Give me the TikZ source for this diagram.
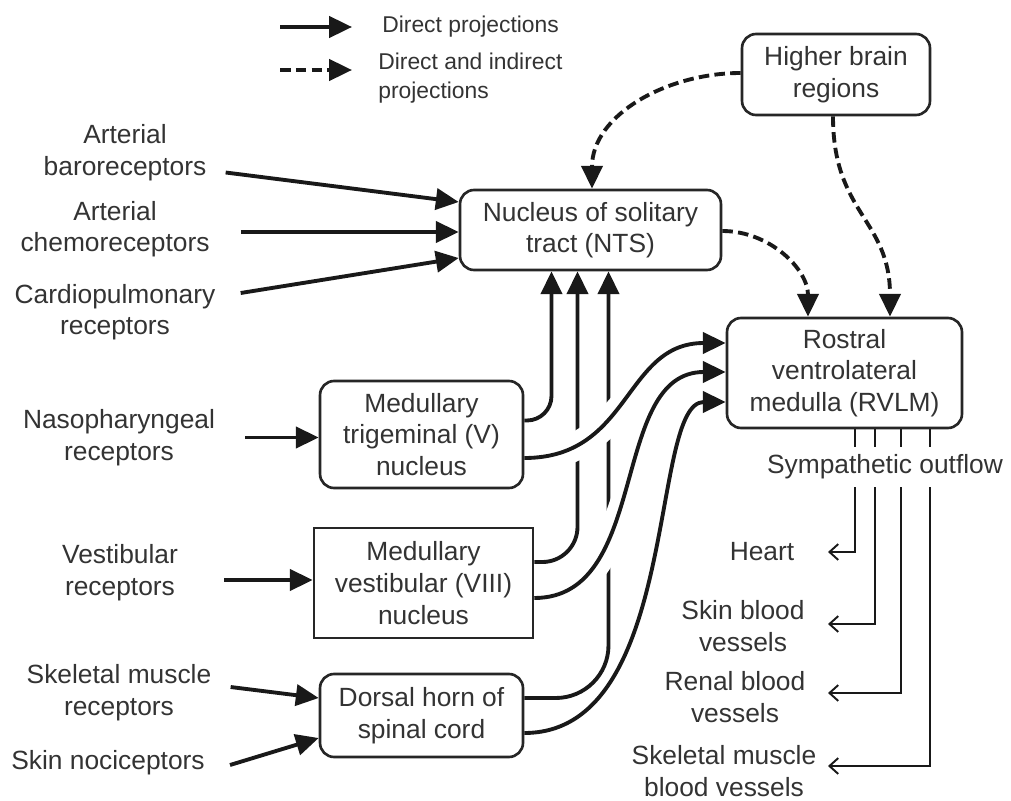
\documentclass[tikz,border=0pt]{standalone}
\usepackage{fontspec}
\setmainfont{Liberation Sans}
\usetikzlibrary{positioning,arrows.meta,calc}

\tikzset{
    box/.style={draw=black!85, line width=1.5pt, rounded corners=8pt, fill=white,
        align=center, inner sep=0pt, text=black!80,
        font={\fontsize{15pt}{18pt}\selectfont}},
    sqbox/.style={box, sharp corners},
    lbl/.style={align=center, inner sep=0pt, text=black!80,
        font={\fontsize{15pt}{18pt}\selectfont}},
    legtext/.style={align=left, inner sep=0pt, text=black!80,
        font={\fontsize{13pt}{16.5pt}\selectfont}},
    direct/.style={line width=2.2pt, draw=black!90, -{Triangle[length=13pt,width=12pt]}},
    indirect/.style={direct, dash pattern=on 6pt off 3pt},
    gapline/.style={draw=white, line width=16pt},
    sympline/.style={line width=1.1pt, draw=black!90},
    organ/.style={sympline, -{Straight Barb[length=5pt,width=9pt]}}
}

\begin{document}
\begin{tikzpicture}[x=0.02cm, y=-0.02cm]
    \useasboundingbox (0,0) rectangle (1011,801);

    % Legend
    \coordinate (legA) at (280,27);
    \coordinate (legB) at (280,70);
    \node[legtext, anchor=west] (legdirect) at (382,27) {Direct projections};
    \node[legtext, anchor=west] (legboth) at (378,78) {Direct and indirect\\projections};
    \draw[direct] (legA) -- ++(72,0);
    \draw[indirect] (legB) -- ++(72,0);

    % Central nuclei
    \node[box, minimum width=3.76cm, minimum height=1.62cm] (hbr) at (836,74.5) {Higher brain\\regions};
    \node[box, minimum width=5.22cm, minimum height=1.6cm] (nts) at (590.5,230) {Nucleus of solitary\\tract (NTS)};
    \node[box, minimum width=4.7cm, minimum height=2.2cm] (rvlm) at (844.5,373) {Rostral\\ventrolateral\\medulla (RVLM)};
    \node[box, minimum width=4.06cm, minimum height=2.14cm] (trig) at (421.5,434.5) {Medullary\\trigeminal (V)\\nucleus};
    \node[sqbox, minimum width=4.38cm, minimum height=2.2cm] (vest) at (423.5,583) {Medullary\\vestibular (VIII)\\nucleus};
    \node[box, minimum width=4.06cm, minimum height=1.66cm] (dorsal) at (421.5,715.5) {Dorsal horn of\\spinal cord};

    % Receptors (inputs)
    \node[lbl] (baro) at (125,152.5) {Arterial\\baroreceptors};
    \node[lbl] (chemo) at (115,229) {Arterial\\chemoreceptors};
    \node[lbl] (cardio) at (115,312) {Cardiopulmonary\\receptors};
    \node[lbl] (naso) at (119,437.5) {Nasopharyngeal\\receptors};
    \node[lbl] (vestr) at (120,572.5) {Vestibular\\receptors};
    \node[lbl] (skelr) at (119,692.5) {Skeletal muscle\\receptors};
    \node[lbl] (skin) at (108,763) {Skin nociceptors};

    % Targets (outputs)
    \node[lbl, minimum height=0.8cm] (symp) at (885,467) {Sympathetic outflow};
    \node[lbl] (heart) at (762,552) {Heart};
    \node[lbl] (skinbv) at (743,626) {Skin blood\\vessels};
    \node[lbl] (renal) at (735,697) {Renal blood\\vessels};
    \node[lbl] (skelbv) at (724,771) {Skeletal muscle\\blood vessels};
    \coordinate (tipx) at (828,0);

    % Inputs to NTS and to the medullary nuclei
    \draw[direct] ($(baro.east)+(19,20)$) -- ($(nts.west)+(0,-28)$);
    \draw[direct] ($(chemo.east)+(31,3)$) -- ($(nts.west)+(0,2)$);
    \draw[direct] ($(cardio.east)+(25,-19)$) -- ($(nts.west)+(0,28)$);
    \draw[direct] ($(naso.east)+(30,0)$) -- (naso.east -| trig.west);
    \draw[direct] ($(vestr.east)+(46,7.5)$) -- ($(vest.west)+(0,-3)$);
    \draw[direct] ($(skelr.east)+(19,-5.5)$) -- ($(dorsal.west)+(0,-17.5)$);
    \draw[direct] ($(skin.east)+(25,2)$) -- ($(dorsal.west)+(0,22.5)$);

    % Nuclei to NTS
    \draw[direct, rounded corners=14pt] ($(trig.east)+(0,-14)$) -| ($(nts.south)+(-39,0)$);
    \draw[direct, rounded corners=20pt] ($(vest.east)+(0,-21)$) -| ($(nts.south)+(-13,0)$);
    \draw[direct, rounded corners=30pt] ($(dorsal.east)+(0,-17.5)$) -| ($(nts.south)+(18,0)$);

    % Nuclei to RVLM, crossing over the NTS lines
    \foreach \src/\sy/\cs/\ce/\ty in {trig/23.5/107/-102/-30, vest/15/117/-117/-1} {
        \begin{scope}
            \clip (562,300) rectangle (640,650);
            \draw[gapline] ($(\src.east)+(0,\sy)$) .. controls +(\cs,0) and +(\ce,0) .. ($(rvlm.west)+(0,\ty)$);
        \end{scope}
        \draw[direct] ($(\src.east)+(0,\sy)$) .. controls +(\cs,0) and +(\ce,0) .. ($(rvlm.west)+(0,\ty)$);
    }
    \draw[direct] ($(dorsal.east)+(0,17.5)$) .. controls +(157,0) and +(-77,0) .. ($(rvlm.west)+(0,29)$);

    % Direct and indirect projections
    \draw[indirect] ($(hbr.west)+(0,-1.5)$) to[out=180,in=90] ($(nts.north)+(1.5,0)$);
    \draw[indirect] ($(nts.east)+(0,1)$) to[out=0,in=90] ($(rvlm.north)+(-36.5,0)$);
    \draw[indirect] ($(hbr.south)+(-3,0)$) to[out=-90,in=90,looseness=1.2] ($(rvlm.north)+(45.5,0)$);

    % Sympathetic outflow
    \foreach \dx/\target/\dy in {10.5/heart/0, 30.5/skinbv/-2, 56.5/renal/-4, 85.5/skelbv/-5} {
        \coordinate (tk) at ($(rvlm.south)+(\dx,0)$);
        \draw[sympline] (tk) -- (tk |- symp.north);
        \draw[organ] (tk |- symp.south) |- ($(tipx |- \target)+(0,\dy)$);
    }
\end{tikzpicture}
\end{document}
